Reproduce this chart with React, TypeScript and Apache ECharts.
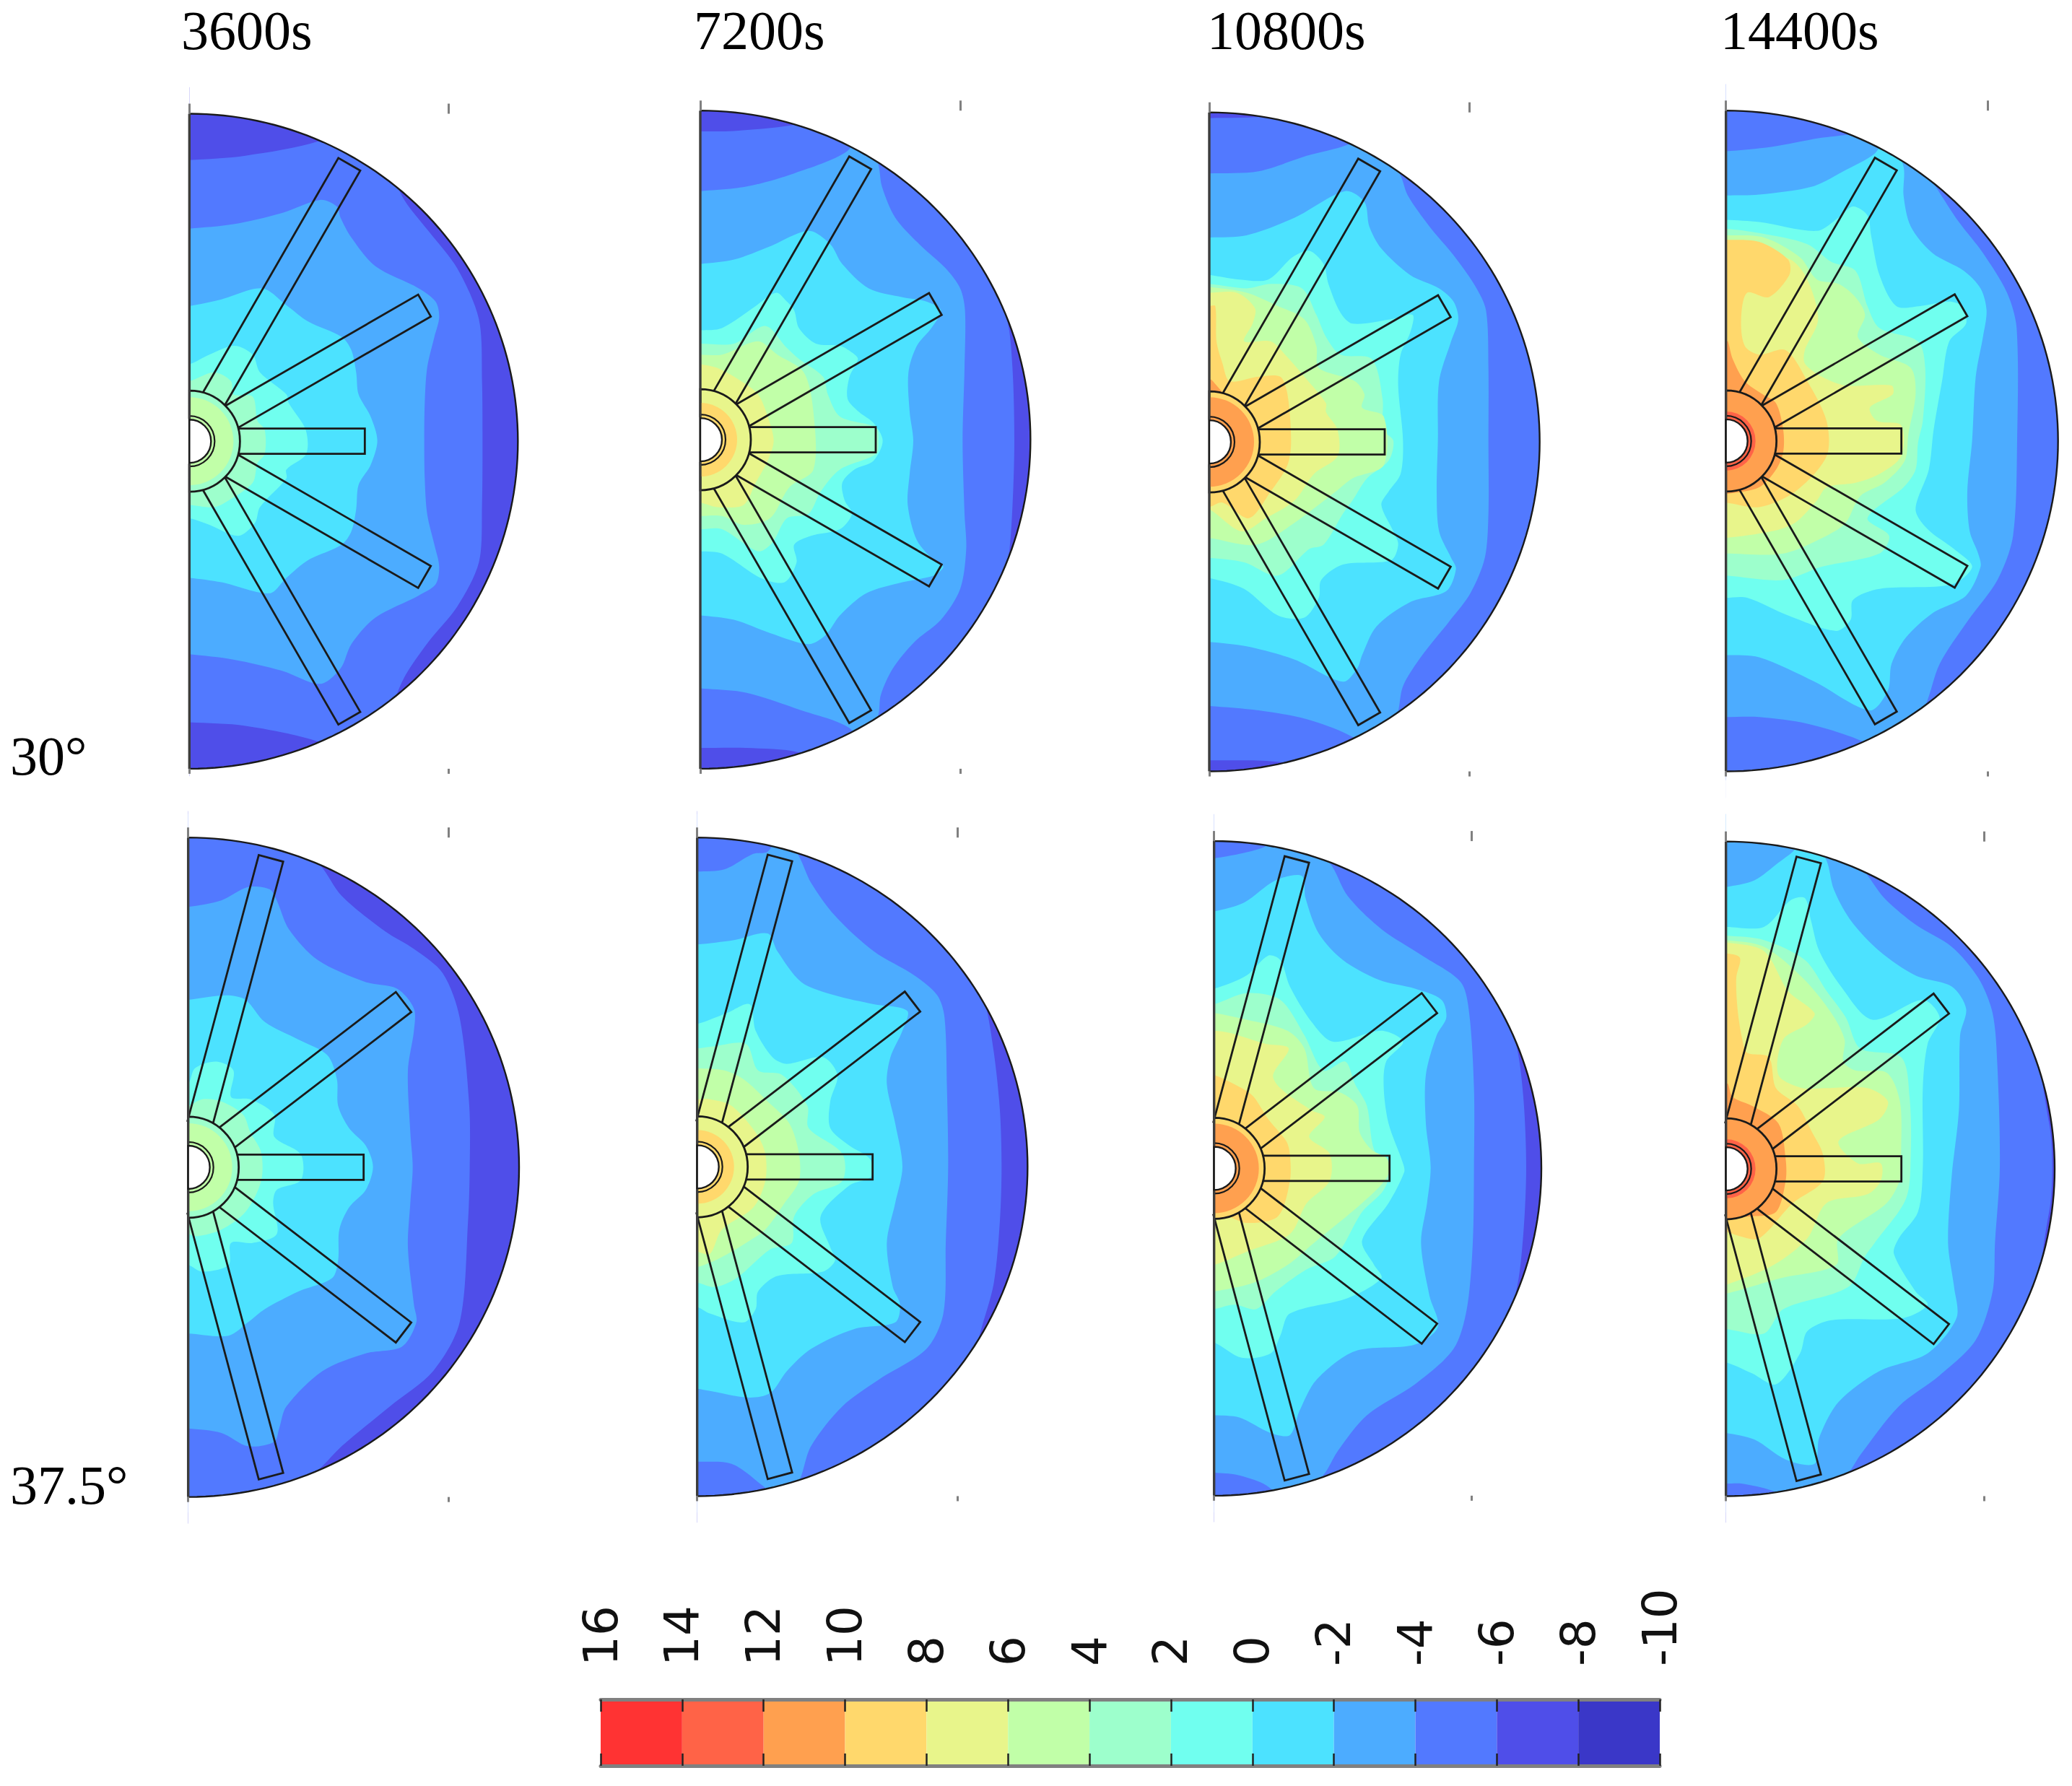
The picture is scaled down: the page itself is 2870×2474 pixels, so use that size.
import React, { useEffect, useRef } from "react";
import * as echarts from "echarts";

// Band colours, hottest first (16..14 down to -8..-10)
const bandColors = ["#ff3333","#ff6347","#ffa04f","#ffd86c","#e8f58b","#c1ffa8","#9dffcc","#70ffef","#4ce2ff","#4cacff","#5279ff","#4f4ee9","#3a37c8"];
const barTicks = [16,14,12,10,8,6,4,2,0,-2,-4,-6,-8,-10];
const columnTitles = ["3600s","7200s","10800s","14400s"];
const rowTitles = ["30°","37.5°"];
const finAnglesRow1 = [60,30,0,-30,-60];
const finAnglesRow2 = [75,37.5,0,-37.5,-75];
const finLengths = [443,376,243,376,443];

// Contours: [band, x,y, x,y ...] in sample units of each panel
const panel1 = [
 [10, 67,150,300,140,600,108,760,60,880,150,960,240,1060,310,1180,395,1270,510,1283,650,1285,785,1283,930,1270,1060,1180,1160,1060,1240,960,1320,880,1420,760,1510,600,1465,300,1430,67,1422],
 [9, 67,305,250,295,450,270,610,240,680,255,695,280,740,325,840,390,1020,440,1090,470,1105,505,1085,550,1055,620,1045,700,1043,785,1045,870,1055,950,1085,1020,1105,1070,1090,1110,1020,1135,840,1185,740,1245,695,1300,610,1335,450,1305,250,1280,67,1268],
 [8, 67,480,200,465,370,440,470,478,560,515,700,550,740,580,760,630,770,680,820,730,848,785,820,840,770,885,760,940,740,990,700,1020,560,1055,470,1095,400,1130,200,1105,67,1095],
 [7, 67,612,150,590,255,570,330,590,360,630,470,680,480,700,550,760,552,815,470,850,470,870,360,935,340,970,270,1000,150,975,67,960],
 [6, 67,650,170,630,240,650,250,680,330,685,350,740,380,760,380,815,350,835,330,880,230,920,170,935,67,930],
];
const panel2 = [
 [10, 60,85,200,84,430,72,700,40,1100,150,1320,480,1345,540,1360,650,1365,785,1360,900,1345,1030,1320,1090,1100,1420,700,1540,470,1490,250,1480,60,1480],
 [9, 60,220,250,210,450,180,670,130,740,70,800,160,815,210,870,280,970,340,1080,395,1140,440,1160,490,1158,620,1150,785,1158,950,1165,1030,1140,1120,1060,1190,950,1240,860,1300,810,1360,800,1405,740,1490,680,1435,480,1395,250,1355,60,1345],
 [8, 60,385,200,375,350,345,510,310,600,340,650,385,760,440,900,460,1000,470,1060,490,1020,530,960,570,925,630,930,720,945,785,930,860,922,930,960,1010,1030,1055,1070,1070,1030,1090,900,1105,750,1130,640,1180,580,1225,510,1245,350,1220,200,1190,60,1180],
 [7, 60,535,150,530,290,480,375,450,420,470,450,490,470,530,540,565,640,570,690,585,715,600,680,640,672,690,720,720,780,745,818,785,780,830,700,850,650,880,660,920,690,950,640,985,520,1000,450,1020,460,1060,410,1105,310,1095,150,1040,60,1035],
 [6, 60,565,200,565,330,525,420,575,470,600,570,640,590,680,640,730,790,755,800,785,790,815,640,850,560,900,510,950,420,960,360,1015,300,1035,150,985,60,985],
 [5, 60,590,150,590,300,560,380,590,490,630,530,720,530,850,430,890,350,960,240,975,150,955,60,955],
 [4, 60,612,130,620,230,650,300,680,340,730,365,785,340,830,290,880,240,930,130,935,60,925],
];
const panel3 = [
 [10, 45,55,300,50,500,20,1000,60,1420,500,1440,1050,1000,1520,620,1530,300,1510,45,1508],
 [9, 45,180,250,175,450,140,620,115,730,80,840,185,870,230,960,300,1060,365,1150,435,1195,490,1205,620,1205,785,1205,950,1190,1050,1130,1130,1040,1195,930,1270,850,1340,825,1405,730,1500,640,1455,450,1415,250,1395,45,1385],
 [8, 45,325,200,320,400,280,610,220,690,245,710,300,760,350,880,410,1000,440,1060,470,1080,510,1050,560,1000,650,995,785,990,900,1000,990,1050,1050,1070,1075,1030,1125,880,1150,740,1205,680,1270,660,1300,600,1330,400,1280,200,1250,45,1240],
 [7, 45,410,170,420,290,420,390,370,460,355,520,385,540,430,590,495,640,520,800,510,890,500,880,540,840,590,830,660,850,785,840,860,790,900,760,930,810,990,830,1020,800,1055,600,1065,510,1100,500,1140,440,1185,330,1180,190,1120,45,1095],
 [6, 45,430,200,440,300,430,430,440,490,500,530,550,590,590,720,600,765,690,768,760,810,785,790,830,700,870,640,920,600,950,520,1020,460,1030,330,1090,190,1060,45,1050],
 [5, 45,437,200,450,330,480,440,510,490,570,500,620,650,650,690,680,680,710,770,730,770,840,640,870,570,900,400,970,240,1020,45,1005],
 [4, 45,450,160,450,235,485,225,520,190,560,300,560,360,590,440,640,530,700,530,720,578,760,578,820,480,860,400,920,280,960,180,990,45,940],
 [3, 45,480,70,480,75,560,100,610,130,650,250,640,340,640,370,680,385,785,370,840,300,900,210,960,100,925,45,935],
 [2, 45,645,60,650,110,690,45,720],
];
const panel4 = [
 [9, 62,130,250,120,450,100,590,90,760,60,940,215,1030,290,1130,360,1230,450,1270,530,1272,785,1255,1000,1190,1100,1070,1190,950,1290,890,1385,760,1510,630,1465,400,1425,200,1410,62,1410],
 [8, 62,230,200,228,420,210,550,175,680,135,740,90,800,165,800,230,830,300,920,360,1050,400,1120,440,1145,490,1130,550,1100,640,1085,785,1065,900,1075,990,1110,1040,1120,1070,1060,1135,920,1175,810,1230,750,1290,735,1350,660,1395,430,1330,200,1275,62,1270],
 [7, 62,285,200,290,440,310,530,280,590,255,650,275,665,320,700,410,770,480,870,480,990,470,1040,480,1060,520,990,560,960,650,925,760,905,850,850,940,900,985,1010,1030,1085,1070,1000,1110,700,1120,590,1145,580,1190,520,1215,320,1180,150,1140,62,1140],
 [6, 62,305,200,315,400,340,500,380,600,400,650,480,700,530,860,560,890,620,880,740,860,790,850,850,800,890,650,960,740,1000,700,1040,460,1070,300,1100,62,1090],
 [5, 62,320,220,325,370,370,440,420,530,430,600,460,640,500,610,550,700,590,830,620,850,680,820,770,805,830,720,880,620,910,560,970,480,1000,300,1040,62,1040],
 [4, 62,330,330,375,400,420,445,510,390,580,390,610,460,640,560,660,750,660,755,680,660,710,690,740,790,750,790,820,700,860,600,880,480,890,440,920,350,970,250,990,62,1005],
 [3, 62,330,200,335,320,375,325,410,240,460,150,450,125,510,140,570,200,590,310,580,400,650,480,740,480,820,350,900,200,935,62,925],
 [2, 62,560,70,560,90,600,140,650,215,680,270,700,300,760,300,810,270,850,200,890,70,905,62,905],
];
const panel5 = [
 [10, 62,-20,400,-10,610,95,700,165,880,245,1000,285,1120,340,1190,440,1230,640,1232,778,1225,900,1190,1130,1080,1240,900,1320,700,1410,610,1460,400,1555,62,1560],
 [9, 62,190,200,175,310,145,400,150,430,175,480,240,600,310,800,360,930,375,1000,420,1000,470,975,560,985,700,995,778,985,860,975,960,1000,1090,1010,1130,950,1185,800,1200,620,1240,470,1320,440,1370,420,1400,310,1410,200,1380,62,1370],
 [8, 62,400,220,390,300,400,380,450,520,490,640,525,680,580,685,640,730,690,800,730,830,778,800,830,730,870,690,920,685,990,660,1030,520,1060,380,1100,310,1130,230,1160,62,1155],
 [7, 62,590,90,555,180,540,250,560,240,620,320,625,420,660,420,710,530,750,530,808,430,830,415,860,430,930,330,950,240,950,230,1000,120,1015,62,1000],
 [6, 62,640,120,625,200,630,290,660,320,700,365,745,365,810,300,880,200,920,100,935,62,930],
];
const panel6 = [
 [10, 47,-20,700,-20,1100,180,1240,400,1280,520,1305,650,1312,778,1305,900,1280,1040,1230,1140,1100,1380,700,1560,47,1560],
 [9, 47,110,160,105,280,70,340,65,400,20,470,75,520,135,620,210,780,290,950,345,1045,390,1075,440,1085,600,1090,778,1080,950,1070,1110,1000,1190,800,1260,650,1320,520,1410,470,1490,400,1540,320,1500,190,1450,47,1445],
 [8, 47,275,200,265,340,250,380,290,480,360,620,390,780,410,920,425,900,470,850,530,835,590,870,680,900,778,870,860,835,950,860,1050,890,1090,870,1130,700,1145,520,1190,420,1240,350,1290,260,1300,100,1285,47,1280],
 [7, 47,455,170,430,265,410,290,470,360,530,420,545,570,530,630,570,600,630,600,690,680,730,765,760,770,800,680,820,560,890,600,960,620,990,570,1015,380,1025,300,1060,290,1100,240,1130,100,1110,47,1095],
 [6, 47,510,120,505,250,500,300,560,400,570,505,640,510,690,650,748,650,810,530,840,450,890,440,950,350,965,210,1030,120,1050,47,1040],
 [5, 47,555,160,560,240,580,340,630,430,680,470,748,470,810,410,860,330,920,250,950,140,985,47,1005],
 [4, 47,625,100,625,190,640,290,700,330,748,330,810,280,870,150,920,100,975,47,970],
];
const panel7 = [
 [10, 65,-20,700,-20,1150,180,1320,500,1350,620,1362,778,1350,930,1320,1060,1150,1380,700,1560,65,1560],
 [9, 65,80,170,70,270,55,400,20,545,90,620,165,760,240,930,300,1090,360,1125,430,1145,600,1145,778,1140,950,1115,1100,1060,1190,900,1270,700,1340,580,1420,520,1475,400,1540,270,1495,160,1475,65,1470],
 [8, 65,200,190,180,320,130,430,120,445,170,500,250,600,310,750,355,900,375,1010,400,1030,440,990,480,945,570,945,680,965,778,950,860,925,950,960,1070,995,1140,900,1180,650,1195,490,1260,420,1330,380,1385,300,1380,170,1345,65,1340],
 [7, 65,375,200,345,290,300,340,310,380,370,470,450,560,495,760,470,850,495,780,540,770,600,790,680,850,770,855,790,790,860,680,945,730,1000,760,1030,620,1075,380,1110,340,1160,300,1200,180,1210,65,1175],
 [6, 65,410,200,385,340,400,440,480,520,560,610,540,650,590,700,640,730,740,795,778,770,830,680,880,570,980,450,1010,320,1060,240,1100,150,1090,65,1100],
 [5, 65,430,200,445,370,470,440,510,480,600,590,610,660,640,670,700,720,740,785,760,785,800,680,860,480,950,370,1000,230,1040,65,1060],
 [4, 65,470,130,475,280,500,375,510,310,570,340,600,470,650,525,665,460,710,545,748,545,810,450,860,380,930,200,970,65,1000],
 [3, 65,570,180,600,230,620,290,670,365,720,380,750,380,810,330,890,200,905,120,890,65,895],
];
const panel8 = [
 [10, 62,-20,700,-20,1200,150,1405,680,1418,780,1405,880,1200,1400,700,1560,62,1560],
 [9, 62,-20,400,-10,630,105,720,170,850,230,1000,280,1110,350,1170,430,1190,550,1200,780,1180,950,1170,1060,1100,1170,950,1250,780,1320,620,1430,570,1470,400,1545,250,1510,130,1495,62,1495],
 [8, 62,145,180,130,280,90,340,65,410,25,480,85,510,150,580,220,700,290,850,345,1000,370,1060,420,1035,480,1030,650,1000,800,985,950,1010,1050,1020,1120,900,1200,700,1240,530,1310,450,1390,430,1450,310,1440,180,1395,62,1380],
 [7, 62,235,220,235,330,175,390,170,415,220,450,290,540,370,670,445,880,400,950,440,900,500,880,600,880,780,860,880,780,940,760,975,850,1060,900,1090,800,1120,500,1125,400,1150,370,1200,270,1270,170,1245,62,1220],
 [6, 62,255,220,265,390,310,480,380,560,440,620,510,790,530,825,620,830,750,810,850,680,950,640,980,570,1050,300,1100,220,1155,62,1145],
 [5, 62,265,220,280,380,350,500,430,555,490,550,540,600,560,730,565,785,630,790,750,790,800,730,860,530,940,520,1000,290,1030,62,1065],
 [4, 62,270,220,290,320,380,430,430,400,455,300,490,280,570,380,600,470,600,650,600,735,630,700,670,530,720,610,770,705,770,705,810,650,840,480,860,400,940,260,1000,62,1045],
 [3, 62,295,120,305,105,350,110,420,130,490,150,520,240,530,270,600,360,640,420,700,465,750,465,810,340,860,200,940,120,935,62,925],
 [2, 62,590,70,590,90,620,170,640,280,680,310,760,310,810,270,880,170,890,62,890],
];
const panelContours = [panel1,panel2,panel3,panel4,panel5,panel6,panel7,panel8];
const panelBase = [11,11,11,10,11,11,11,11];
// hub colours: band near the tube, its reach in px of the hub, band at the rim
const hubInnerBand = [5,3,2,1,5,3,2,1];
const hubInnerReach = [61,51,62,41,61,51,62,41];
const hubOuterBand = [6,4,3,2,6,4,3,2];

// Layout: sample window of each panel → page
const SY = 960/1568;
const frames = [
 {x0:240,y0:130,hub:67,right:1432,top:45,bottom:1527,tick:1145},
 {x0:950,y0:130,hub:60,right:1432,top:38,bottom:1527,tick:1140},
 {x0:1660,y0:130,hub:45,right:1418,top:42,bottom:1533,tick:1127},
 {x0:2370,y0:130,hub:62,right:1442,top:38,bottom:1533,tick:1150},
 {x0:240,y0:1140,hub:62,right:1437,top:33,bottom:1525,tick:1143},
 {x0:950,y0:1140,hub:47,right:1420,top:33,bottom:1523,tick:1130},
 {x0:1660,y0:1140,hub:65,right:1425,top:41,bottom:1522,tick:1135},
 {x0:2370,y0:1140,hub:62,right:1428,top:42,bottom:1523,tick:1135},
];
const titleX = [251,961,1672,2383];
const LINE = "#1a1a1a";

function buildOption() {
  const grid: any[] = [], xAxis: any[] = [], yAxis: any[] = [], series: any[] = [];
  frames.forEach((f, i) => {
    const left = f.x0 + f.hub/3, right = f.x0 + f.right/3;
    const top = f.y0 + f.top*SY, bottom = f.y0 + f.bottom*SY;
    grid.push({ left, top, width: right-left, height: bottom-top });
    const tick = { show:true, customValues:[f.hub,f.tick], lineStyle:{color:"#808080",width:3} };
    const base = { type:"value", min:f.hub, max:f.right, gridIndex:i, z:6, splitLine:{show:false}, axisLine:{show:false}, axisLabel:{show:false} };
    xAxis.push({ ...base, position:"top", axisTick:{...tick,length:14} });
    xAxis.push({ ...base, position:"bottom", axisTick:{...tick,length:7} });
    yAxis.push({ type:"value", min:f.top, max:f.bottom, inverse:true, gridIndex:i, show:false });
    const bands = panelContours[i];
    const fins = i<4 ? finAnglesRow1 : finAnglesRow2;
    const mid = (f.top+f.bottom)/2;
    const items = [-1, ...bands.map((_,k)=>k), -2];
    series.push({
      type:"custom", silent:true, clip:false, xAxisIndex:i*2, yAxisIndex:i, z:2,
      data: items.map((_,k)=>k),
      renderItem: (params:any, api:any) => {
        const it = items[params.dataIndex];
        if (it===-1) {
          const pts = [[f.hub-40,f.top-60],[f.right+60,f.top-60],[f.right+60,f.bottom+60],[f.hub-40,f.bottom+60]].map(p=>api.coord(p));
          return { type:"polygon", shape:{points:pts}, style:{fill:bandColors[panelBase[i]]} };
        }
        if (it>=0) {
          const row = bands[it];
          const pts:number[][] = [];
          for (let k=1;k<row.length;k+=2) pts.push([row[k],row[k+1]]);
          const chain = [[f.hub-45,pts[0][1]],...pts,[f.hub-45,pts[pts.length-1][1]]].map(p=>api.coord(p));
          return { type:"polygon", shape:{points:chain,smooth:0.3}, style:{fill:bandColors[row[0]]} };
        }
        // overlay: mask, fins, hub, tube, outline
        const c = api.coord([f.hub,mid]);
        const rx = api.coord([f.right,mid])[0]-c[0];
        const ry = api.coord([f.hub,f.bottom])[1]-c[1];
        const cx=c[0], cy=c[1];
        const arc:number[][] = [];
        for (let a=-90;a<=90;a+=1.5) { const t=a*Math.PI/180; arc.push([cx+rx*Math.cos(t),cy+ry*Math.sin(t)]); }
        const M=85;
        const mask=[...arc,[cx,cy+ry+M],[cx+rx+M,cy+ry+M],[cx+rx+M,cy-ry-M],[cx,cy-ry-M]];
        const children:any[] = [
          {type:"polygon",shape:{points:mask},style:{fill:"#fff"}},
          {type:"rect",shape:{x:cx-36,y:cy-ry-M,width:36,height:2*ry+2*M},style:{fill:"#fff"}},
        ];
        fins.forEach((deg,k)=>{
          const t=deg*Math.PI/180, L=finLengths[k], w=17.5, r0=62;
          const P=(r:number,s:number)=>[cx+r*Math.cos(t)+s*Math.sin(t),cy-r*Math.sin(t)+s*Math.cos(t)];
          children.push({type:"polygon",shape:{points:[P(r0,-w),P(L,-w),P(L,w),P(r0,w)]},style:{fill:"none",stroke:LINE,lineWidth:2.8}});
        });
        const sector=(r:number,band:number|null,stroke?:string,lw?:number)=>({type:"sector",shape:{cx,cy,r0:0,r,startAngle:-Math.PI/2,endAngle:Math.PI/2,clockwise:true},style:{fill:band===null?"#fff":bandColors[band],stroke:stroke||"none",lineWidth:lw||0}});
        children.push(sector(70,hubOuterBand[i],LINE,2.8));
        children.push(sector(hubInnerReach[i],hubInnerBand[i]));
        children.push(sector(35,hubInnerBand[i],LINE,2.2));
        children.push(sector(30,null,LINE,2.4));
        children.push({type:"polyline",shape:{points:arc},style:{fill:"none",stroke:LINE,lineWidth:2.4}});
        children.push({type:"line",shape:{x1:cx,y1:cy-ry,x2:cx,y2:cy-31},style:{stroke:"#3c3c3c",lineWidth:3.4}});
        children.push({type:"line",shape:{x1:cx,y1:cy+31,x2:cx,y2:cy+ry},style:{stroke:"#3c3c3c",lineWidth:3.4}});
        return {type:"group",children};
      },
    });
  });

  // Colour bar
  const gi = frames.length;
  grid.push({left:832,top:2354,width:1467,height:92});
  const barBase = { type:"value", min:-10, max:16, interval:2, inverse:true, gridIndex:gi, z:6, splitLine:{show:false},
    axisLine:{show:true,onZero:false,lineStyle:{color:"#808080",width:5}}, axisTick:{show:true,inside:true,length:17,lineStyle:{color:"#222",width:2.5}} };
  xAxis.push({ ...barBase, position:"top", axisLabel:{show:true,rotate:-90,margin:46,color:"#111",fontFamily:"DejaVu Sans",fontSize:66,hideOverlap:false,
    formatter:(v:number)=>String(barTicks.find(t=>t===v))} });
  xAxis.push({ ...barBase, position:"bottom", axisLabel:{show:false} });
  yAxis.push({ type:"value", min:0, max:1, gridIndex:gi, show:false });
  series.push({
    type:"custom", silent:true, xAxisIndex:gi*2, yAxisIndex:gi, z:2,
    data: barTicks.slice(0,-1).map((t,k)=>[t,barTicks[k+1],k]),
    renderItem:(p:any,api:any)=>{
      const a=api.coord([api.value(0),1]), b=api.coord([api.value(1),0]);
      return {type:"rect",shape:{x:a[0],y:a[1],width:b[0]-a[0],height:b[1]-a[1]},style:{fill:bandColors[api.value(2)]}};
    },
  });

  const serif = "76px 'Liberation Serif'";
  const text=(t:string,x:number,y:number)=>({type:"text",x,y,z:20,style:{text:t,font:serif,fill:"#000",textAlign:"left"}});
  const graphic = [
    ...columnTitles.map((t,i)=>text(t,titleX[i],4)),
    text(rowTitles[0],14,1009),
    text(rowTitles[1],14,2019),
  ];
  return { animation:false, backgroundColor:"#fff", grid, xAxis, yAxis, series, graphic };
}

export default function App() {
  const ref = useRef<HTMLDivElement>(null);
  useEffect(()=>{
    const chart = echarts.init(ref.current!, undefined, {renderer:"svg"});
    chart.setOption(buildOption() as any);
    return ()=>chart.dispose();
  },[]);
  return <div ref={ref} style={{position:"fixed",left:0,top:0,width:2870,height:2474,background:"#fff"}} />;
}
